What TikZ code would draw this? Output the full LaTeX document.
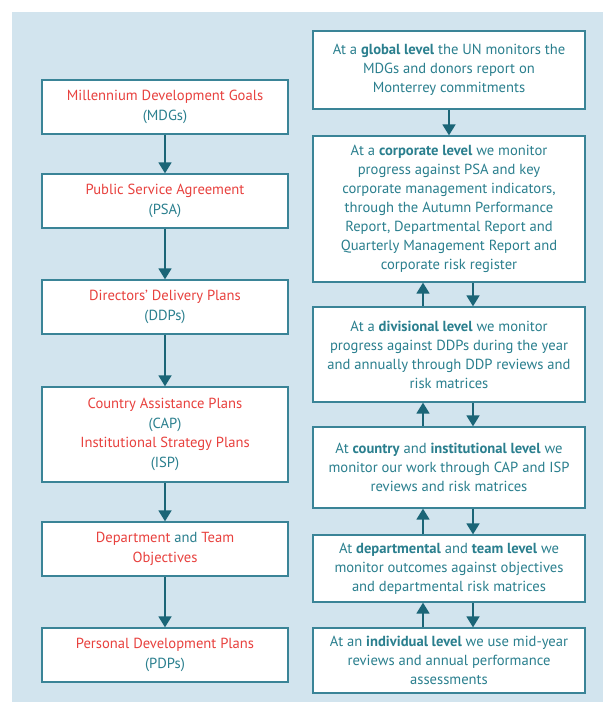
\documentclass[tikz,border=0pt]{standalone}
\usepackage{fontspec}
\setmainfont{PT Sans}
\usetikzlibrary{arrows.meta}
\definecolor{bgblue}{HTML}{D2E4EE}
\definecolor{edge}{HTML}{3A8497}
\definecolor{arrowc}{HTML}{1B6577}
\definecolor{tealtxt}{HTML}{2A7F8E}
\definecolor{redtxt}{HTML}{E8413E}
\tikzset{
  box/.style={draw=edge, line width=1.3pt, fill=white, align=center, inner sep=2pt,
    text=tealtxt, font=\fontsize{14.6}{19}\selectfont},
  lbox/.style={box, minimum width=246pt, font=\fontsize{14.6}{19.5}\selectfont},
  rbox/.style={box, minimum width=272pt},
  arr/.style={draw=arrowc, line width=1.8pt, -{Triangle[width=13pt,length=11pt]}},
}
\newcommand{\rd}[1]{\textcolor{redtxt}{#1}}
\begin{document}
\begin{tikzpicture}[x=1pt,y=-1pt]
\useasboundingbox (0,0) rectangle (603,702);
\fill[bgblue] (12,12) rectangle (603,702);
% left column
\node[lbox, minimum height=54pt] (L1) at (165,107) {\rd{Millennium Development Goals}\\(MDGs)};
\node[lbox, minimum height=54pt] (L2) at (165,201) {\rd{Public Service Agreement}\\(PSA)};
\node[lbox, minimum height=54pt] (L3) at (165,307) {\rd{Directors' Delivery Plans}\\(DDPs)};
\node[lbox, minimum height=95pt] (L4) at (165,434.5) {\rd{Country Assistance Plans}\\(CAP)\\\rd{Institutional Strategy Plans}\\(ISP)};
\node[lbox, minimum height=54pt] (L5) at (165,549) {\rd{Department} and \rd{Team}\\\rd{Objectives}};
\node[lbox, minimum height=54pt] (L6) at (165,655) {\rd{Personal Development Plans}\\(PDPs)};
\draw[arr] (L1) -- (L2);
\draw[arr] (L2) -- (L3);
\draw[arr] (L3) -- (L4);
\draw[arr] (L4) -- (L5);
\draw[arr] (L5) -- (L6);
% right column
\node[rbox, minimum height=78pt] (R1) at (449,70) {At a \textbf{global level} the UN monitors the\\MDGs and donors report on\\Monterrey commitments};
\node[rbox, minimum height=146pt] (R2) at (449,209) {At a \textbf{corporate level} we monitor\\progress against PSA and key\\corporate management indicators,\\through the Autumn Performance\\Report, Departmental Report and\\Quarterly Management Report and\\corporate risk register};
\node[rbox, minimum height=95pt] (R3) at (449,354.5) {At a \textbf{divisional level} we monitor\\progress against DDPs during the year\\and annually through DDP reviews and\\risk matrices};
\node[rbox, minimum height=81pt] (R4) at (449,467.5) {At \textbf{country} and \textbf{institutional level} we\\monitor our work through CAP and ISP\\reviews and risk matrices};
\node[rbox, minimum height=67pt] (R5) at (449,568.5) {At \textbf{departmental} and \textbf{team level} we\\monitor outcomes against objectives\\and departmental risk matrices};
\node[rbox, minimum height=65pt] (R6) at (449,660.5) {At an \textbf{individual level} we use mid-year\\reviews and annual performance\\assessments};
\draw[arr] (R1) -- (R2);
\foreach \lo/\up in {R3/R2,R4/R3,R5/R4,R6/R5}{
  \draw[arr] ([xshift=-26pt]\lo.north) -- ([xshift=-26pt]\up.south);
  \draw[arr] ([xshift=24pt]\up.south) -- ([xshift=24pt]\lo.north);
}
\end{tikzpicture}
\end{document}
